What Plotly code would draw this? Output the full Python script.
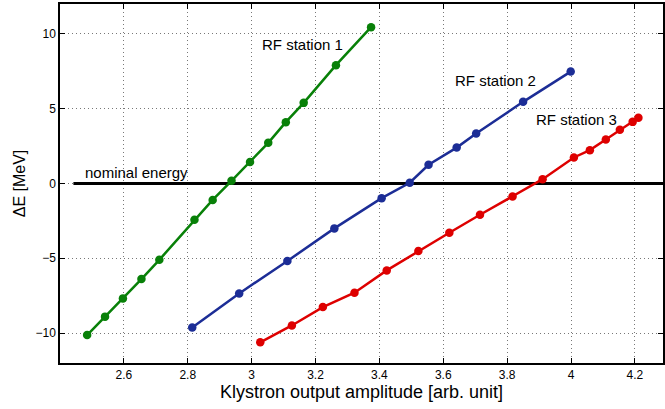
import plotly.graph_objects as go

st1_x = [2.485, 2.541, 2.597, 2.655, 2.711, 2.821, 2.878, 2.937, 2.995, 3.052, 3.107, 3.163, 3.264, 3.374]
st1_y = [-10.13, -8.9, -7.68, -6.39, -5.1, -2.42, -1.1, 0.18, 1.43, 2.72, 4.1, 5.39, 7.91, 10.45]

st2_x = [2.814, 2.961, 3.112, 3.259, 3.407, 3.495, 3.554, 3.642, 3.703, 3.850, 3.999]
st2_y = [-9.62, -7.35, -5.18, -3.0, -0.98, 0.05, 1.25, 2.40, 3.34, 5.46, 7.48]

st3_x = [3.027, 3.126, 3.223, 3.322, 3.423, 3.522, 3.619, 3.715, 3.817, 3.911, 4.009, 4.059, 4.109, 4.153, 4.193, 4.211]
st3_y = [-10.62, -9.49, -8.26, -7.30, -5.81, -4.52, -3.29, -2.09, -0.87, 0.29, 1.74, 2.23, 2.94, 3.59, 4.12, 4.39]

nominal_x = [2.442, 4.4]
nominal_y = [0, 0]

x_ticks = [2.6, 2.8, 3.0, 3.2, 3.4, 3.6, 3.8, 4.0, 4.2]
x_ticktext = ["2.6", "2.8", "3", "3.2", "3.4", "3.6", "3.8", "4", "4.2"]
y_ticks = [-10, -5, 0, 5, 10]
y_ticktext = ["\u221210", "\u22125", "0", "5", "10"]

labels = [
    ("RF station 1", 3.031, 9.31),
    ("RF station 2", 3.637, 6.86),
    ("RF station 3", 3.889, 4.30),
    ("nominal energy", 2.478, 0.71),
]

GREEN = "rgb(8,128,8)"
BLUE = "rgb(28,45,150)"
RED = "rgb(222,0,0)"
FONT = "Liberation Sans, Arial"

fig = go.Figure()
fig.add_trace(go.Scatter(x=nominal_x, y=nominal_y, mode="lines",
                         line=dict(color="black", width=3)))
for xs, ys, c in [(st1_x, st1_y, GREEN), (st2_x, st2_y, BLUE), (st3_x, st3_y, RED)]:
    fig.add_trace(go.Scatter(x=xs, y=ys, mode="lines+markers",
                             line=dict(color=c, width=2.5),
                             marker=dict(color=c, size=8.5)))

for t, x, y in labels:
    fig.add_annotation(x=x, y=y, text=t, showarrow=False, xanchor="left", yanchor="middle",
                       xshift=-2, font=dict(family=FONT, size=15, color="black"))

axis_common = dict(
    showline=True, linecolor="black", linewidth=1.5, mirror="ticks",
    ticks="inside", ticklen=5, tickcolor="black", tickwidth=1,
    showgrid=True, gridcolor="rgb(120,120,120)", griddash="1px,3px", gridwidth=1,
    zeroline=False,
    tickfont=dict(family=FONT, size=12, color="black"),
)

fig.update_xaxes(range=[2.4, 4.288], tickvals=x_ticks, ticktext=x_ticktext,
                 title=dict(text="Klystron output amplitude [arb. unit]", standoff=3,
                            font=dict(family=FONT, size=18, color="black")),
                 **axis_common)
fig.update_yaxes(range=[-12, 12], tickvals=y_ticks, ticktext=y_ticktext,
                 title=dict(text="\u0394E [MeV]", standoff=6,
                            font=dict(family=FONT, size=16, color="black")),
                 **axis_common)

fig.update_layout(width=665, height=409, showlegend=False,
                  margin=dict(l=60, r=0, t=4, b=46),
                  plot_bgcolor="white", paper_bgcolor="white")

fig.write_html("out.html")
